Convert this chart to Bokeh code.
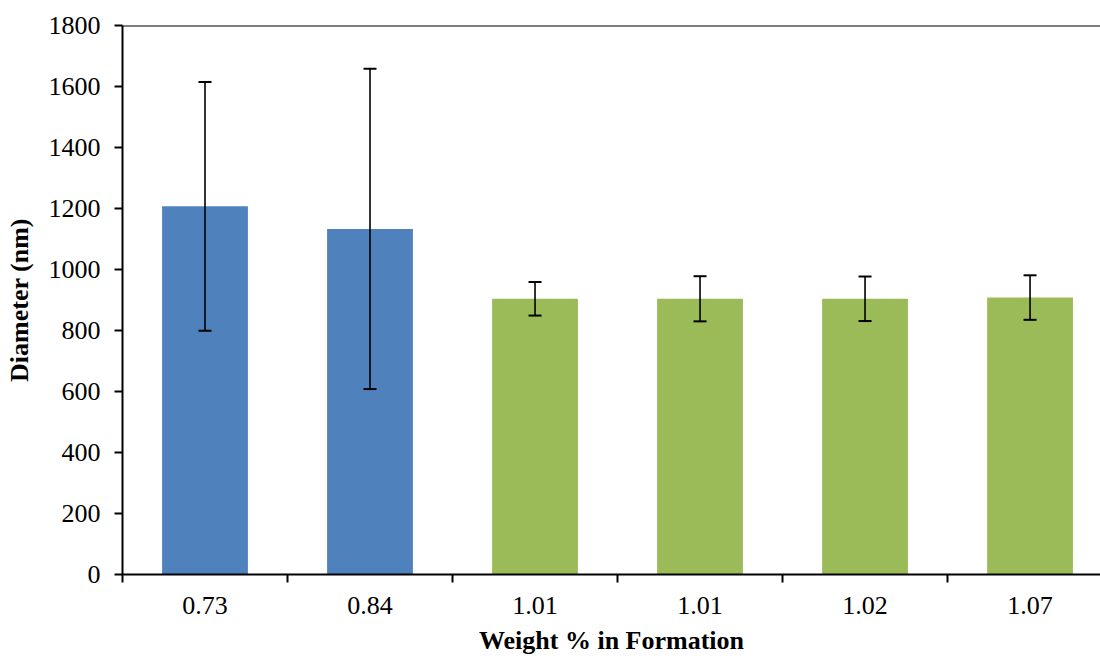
from bokeh.plotting import figure
from bokeh.models import (ColumnDataSource, Whisker, TeeHead, FixedTicker, Range1d, Span)
from bokeh.embed import file_html
from bokeh.resources import INLINE

# Mean diameter (nm) and standard deviation for each formation
labels = ["0.73", "0.84", "1.01", "1.01", "1.02", "1.07"]
diameter = [1207, 1133, 904, 904, 904, 908]
std_dev = [408, 525, 55, 74, 73, 73]
colors = ["#4F81BD", "#4F81BD", "#9BBB59", "#9BBB59", "#9BBB59", "#9BBB59"]
y_ticks = [0, 200, 400, 600, 800, 1000, 1200, 1400, 1600, 1800]

centers = [i + 0.5 for i in range(len(labels))]
src = ColumnDataSource(dict(
    x=centers,
    top=diameter,
    color=colors,
    upper=[d + s for d, s in zip(diameter, std_dev)],
    lower=[d - s for d, s in zip(diameter, std_dev)],
))

FONT = "Liberation Serif"
FSIZE = "26px"

p = figure(width=1100, height=658, output_backend="svg", toolbar_location=None,
           x_range=Range1d(0, 5.927), y_range=Range1d(0, 1800),
           min_border_left=122, min_border_right=0, min_border_top=25,
           min_border_bottom=84)
p.outline_line_color = None
p.grid.visible = False
p.background_fill_color = "white"
p.border_fill_color = "white"

p.vbar(x="x", top="top", width=0.52, bottom=0, fill_color="color",
       line_color=None, source=src)

err = Whisker(base="x", upper="upper", lower="lower", source=src,
              line_color="black", line_width=1.6, level="overlay",
              upper_head=TeeHead(size=13, line_color="black", line_width=2),
              lower_head=TeeHead(size=13, line_color="black", line_width=2))
p.add_layout(err)

# top border of the plot area
p.add_layout(Span(location=1800, dimension="width", line_color="black", line_width=2))

# x axis: labels at bar centres, tick marks between categories
xa = p.xaxis[0]
xa.ticker = FixedTicker(ticks=centers, minor_ticks=list(range(len(labels) + 1)))
xa.major_label_overrides = {c: l for c, l in zip(centers, labels)}
xa.major_tick_out = 0
xa.major_tick_in = 0
xa.minor_tick_out = 8
xa.minor_tick_in = 0
xa.minor_tick_line_color = "black"
xa.minor_tick_line_width = 2
xa.axis_line_color = "black"
xa.axis_line_width = 2
xa.major_label_text_font = FONT
xa.major_label_text_font_size = FSIZE
xa.major_label_text_color = "black"
xa.major_label_standoff = 14
xa.axis_label = "Weight % in Formation"
xa.axis_label_text_font = FONT
xa.axis_label_text_font_size = FSIZE
xa.axis_label_text_font_style = "bold"
xa.axis_label_text_color = "black"
xa.axis_label_standoff = 9

ya = p.yaxis[0]
ya.ticker = FixedTicker(ticks=y_ticks)
ya.minor_tick_line_color = None
ya.major_tick_out = 8
ya.major_tick_in = 0
ya.major_tick_line_color = "black"
ya.major_tick_line_width = 2
ya.axis_line_color = "black"
ya.axis_line_width = 2
ya.major_label_text_font = FONT
ya.major_label_text_font_size = FSIZE
ya.major_label_text_color = "black"
ya.major_label_standoff = 14
ya.axis_label = "Diameter (nm)"
ya.axis_label_text_font = FONT
ya.axis_label_text_font_size = FSIZE
ya.axis_label_text_font_style = "bold"
ya.axis_label_text_color = "black"
ya.axis_label_standoff = 12

open("out.html", "w").write(file_html(p, INLINE))
